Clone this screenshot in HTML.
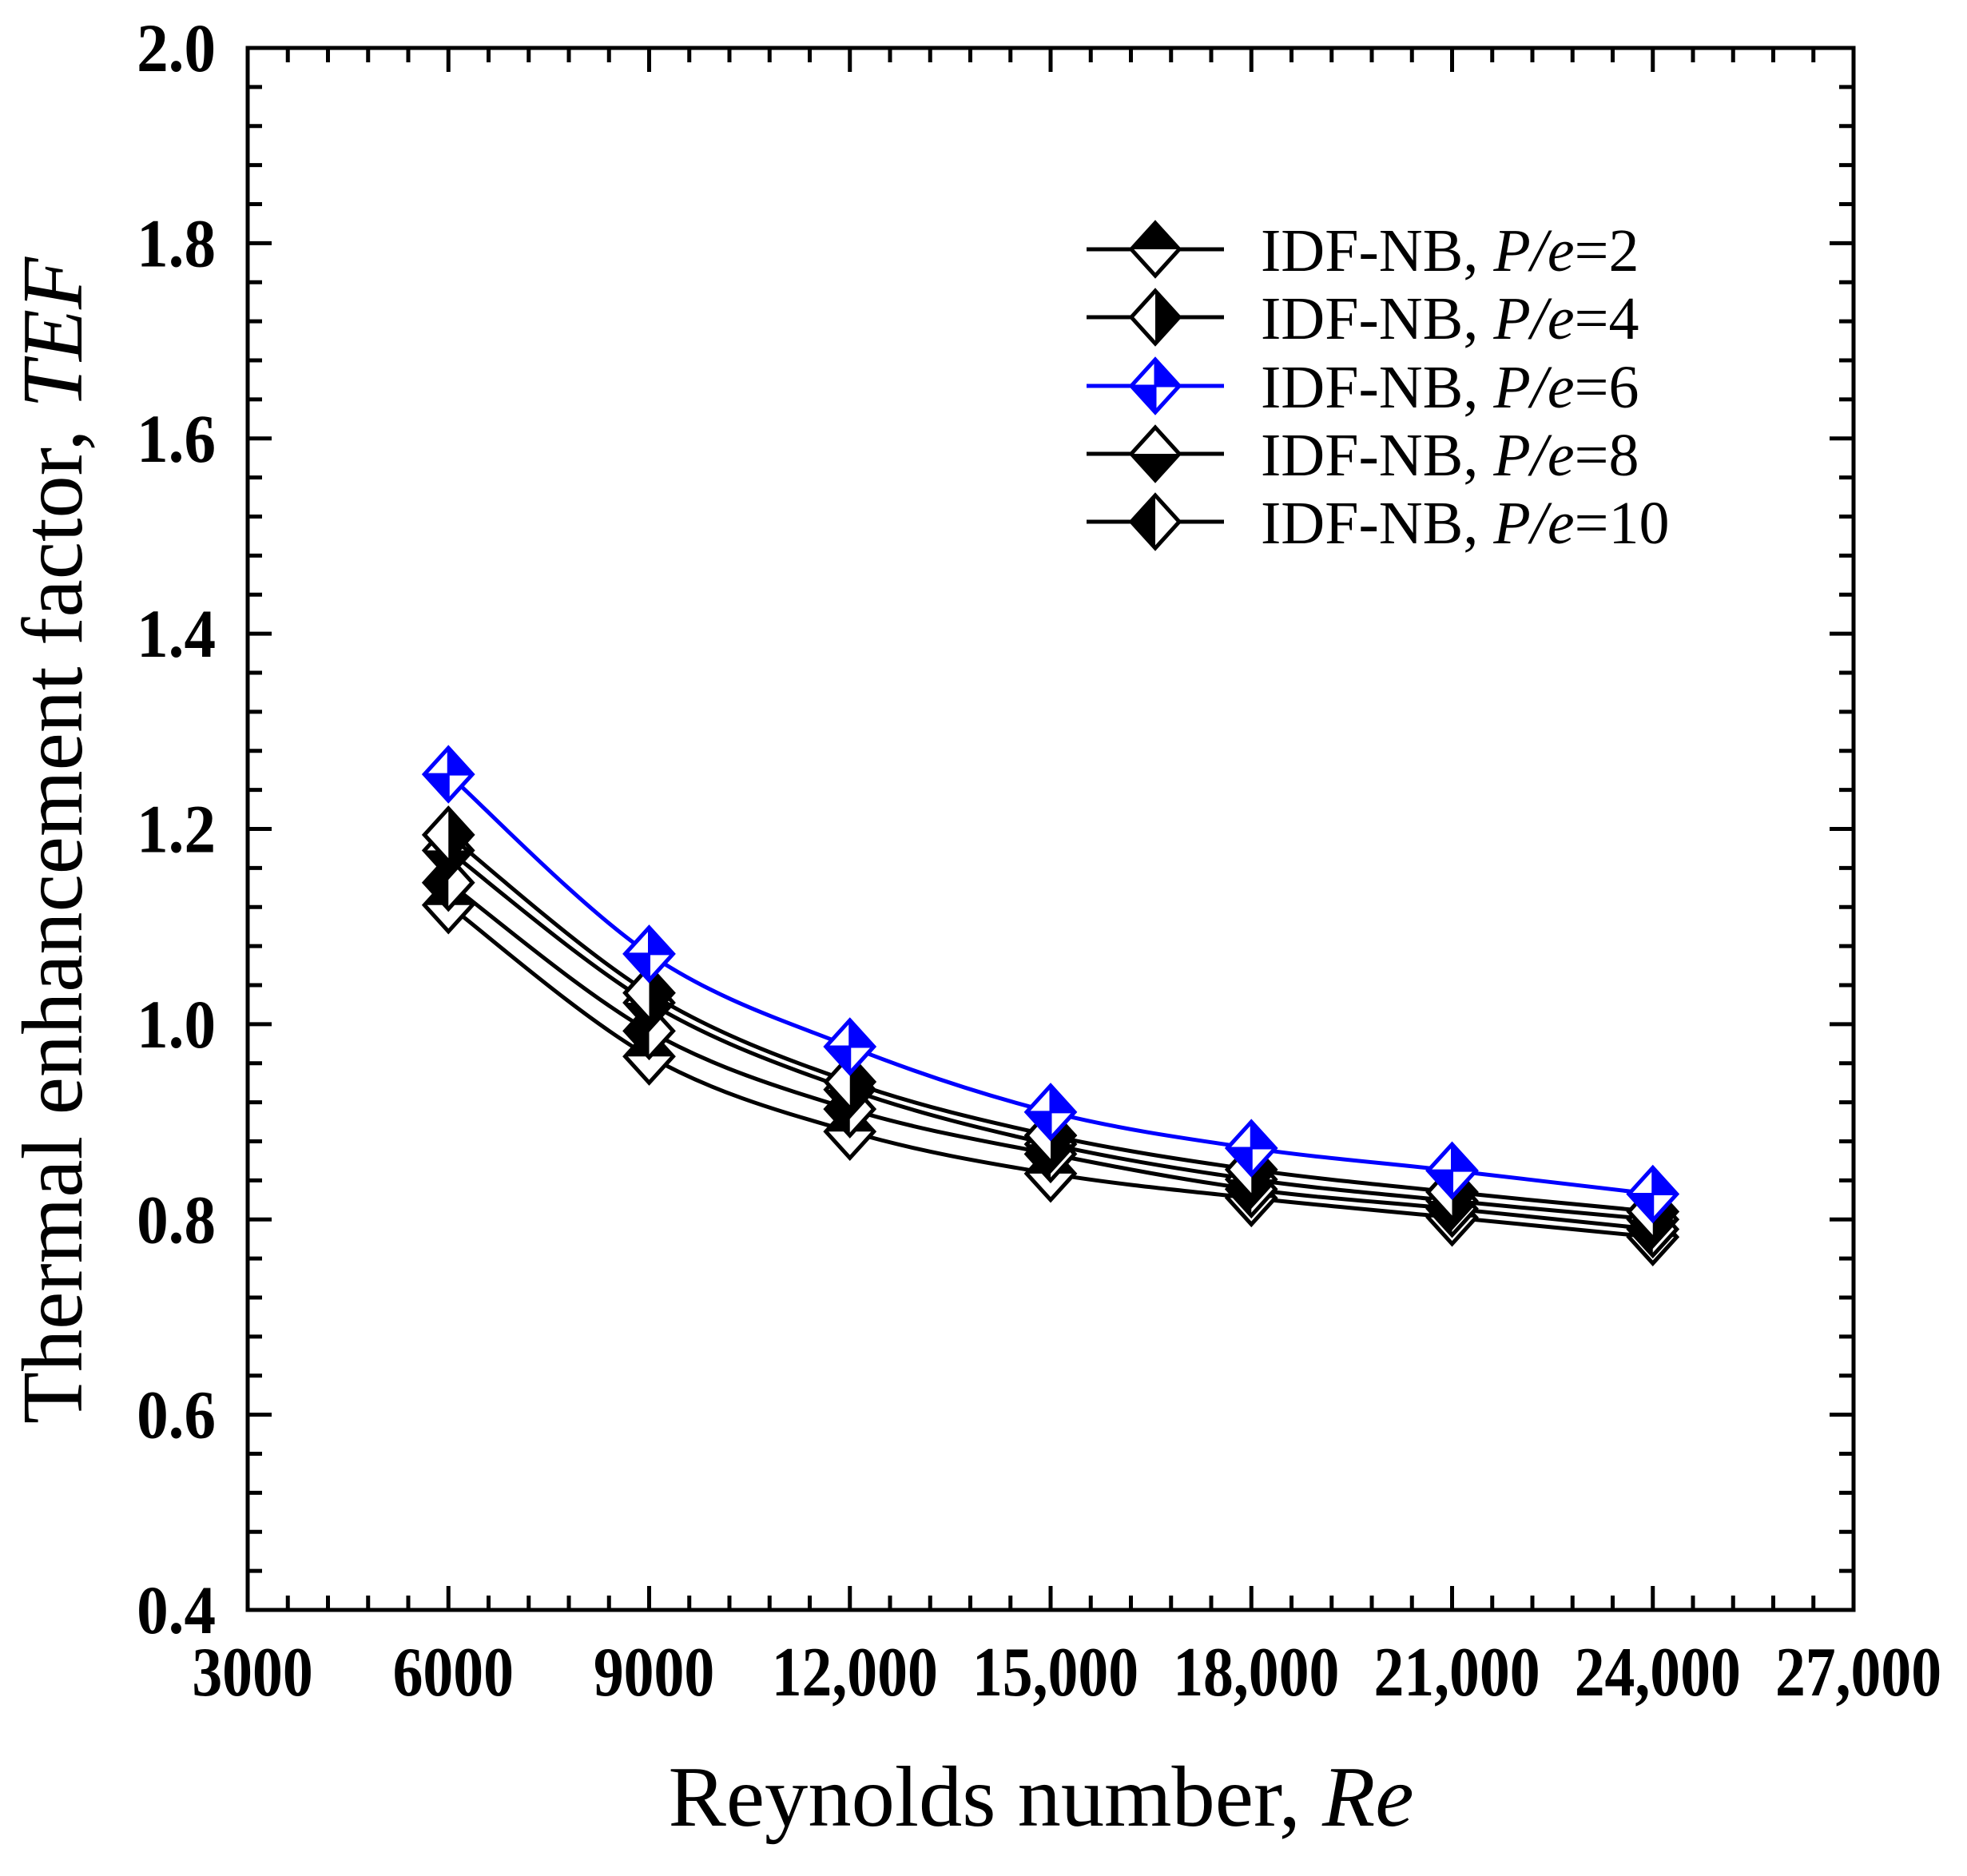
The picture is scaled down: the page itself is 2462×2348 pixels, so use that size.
<!DOCTYPE html>
<html><head><meta charset="utf-8"><style>
html,body{margin:0;padding:0;background:#fff;}
svg{display:block;}
text{font-family:"Liberation Serif","Times New Roman",serif;}
</style></head><body>
<svg id="chart" width="2462" height="2348" viewBox="0 0 2462 2348" xmlns="http://www.w3.org/2000/svg">
<g id="axes"></g>
<g id="series"></g>
<g id="legend"></g>
<text x="1303" y="2285" font-size="108" text-anchor="middle" textLength="933" lengthAdjust="spacingAndGlyphs">Reynolds number, <tspan font-style="italic">Re</tspan></text>
<text transform="translate(102,1052) rotate(-90)" font-size="108" text-anchor="middle" textLength="1460" lengthAdjust="spacingAndGlyphs">Thermal enhancement factor, <tspan font-style="italic">TEF</tspan></text>
</svg>
<script>
const reynolds = [6000, 9000, 12000, 15000, 18000, 21000, 24000];
const tefPe2  = [1.122, 0.967, 0.890, 0.847, 0.822, 0.802, 0.782];
const tefPe4  = [1.194, 1.032, 0.941, 0.886, 0.851, 0.828, 0.808];
const tefPe6  = [1.256, 1.072, 0.977, 0.910, 0.873, 0.850, 0.826];
const tefPe8  = [1.178, 1.022, 0.933, 0.877, 0.841, 0.819, 0.800];
const tefPe10 = [1.145, 0.993, 0.913, 0.867, 0.831, 0.811, 0.790];
const xTickValues = [3000, 6000, 9000, 12000, 15000, 18000, 21000, 24000, 27000];
const xTickLabels = ["3000","6000","9000","12,000","15,000","18,000","21,000","24,000","27,000"];
const yTickValues = [0.4, 0.6, 0.8, 1.0, 1.2, 1.4, 1.6, 1.8, 2.0];
const yTickLabels = ["0.4","0.6","0.8","1.0","1.2","1.4","1.6","1.8","2.0"];
const seriesNames = ["IDF-NB, P/e=2","IDF-NB, P/e=4","IDF-NB, P/e=6","IDF-NB, P/e=8","IDF-NB, P/e=10"];

const NS = "http://www.w3.org/2000/svg";
const L = 310, R = 2320, T = 60, B = 2015;
const X0 = 3000, X1 = 27000, Y0 = 0.4, Y1 = 2.0;
const xs = v => L + (v - X0) / (X1 - X0) * (R - L);
const ys = v => B - (v - Y0) / (Y1 - Y0) * (B - T);
function el(tag, attrs, parent) {
  const e = document.createElementNS(NS, tag);
  for (const k in attrs) e.setAttribute(k, attrs[k]);
  parent.appendChild(e);
  return e;
}
const axes = document.getElementById("axes");
const frame = el("rect", {x: L, y: T, width: R - L, height: B - T, fill: "none", stroke: "#000", "stroke-width": 5}, axes);


for (let v = X0; v <= X1 + 1; v += 600) {
  const major = Math.abs((v - X0) % 3000) < 1;
  const len = major ? 30 : 18;
  const x = xs(v);
  const t1 = el("line", {x1: x, x2: x, y1: B, y2: B - len, stroke: "#000", "stroke-width": 5}, axes);
  
  
  const t2 = el("line", {x1: x, x2: x, y1: T, y2: T + len, stroke: "#000", "stroke-width": 5}, axes);
  
  
}
for (let v = 0.4; v <= 2.0001; v += 0.04) {
  const major = Math.abs(((v - 0.4) / 0.2) - Math.round((v - 0.4) / 0.2)) < 0.01;
  const len = major ? 30 : 18;
  const y = ys(v);
  const t1 = el("line", {x1: L, x2: L + len, y1: y, y2: y, stroke: "#000", "stroke-width": 5}, axes);
  
  
  const t2 = el("line", {x1: R, x2: R - len, y1: y, y2: y, stroke: "#000", "stroke-width": 5}, axes);
  
  
}
xTickValues.forEach((v, i) => {
  const g = el("g", {transform: `translate(${xs(v) + 6},2122) scale(0.86,1)`}, axes);
  const t = el("text", {x: 0, y: 0, "font-size": 88, "font-weight": "bold", "text-anchor": "middle"}, g);
  t.textContent = xTickLabels[i];
  
  
});
yTickValues.forEach((v, i) => {
  const g = el("g", {transform: `translate(270,${ys(v) + 29}) scale(0.92,1)`}, axes);
  const t = el("text", {x: 0, y: 0, "font-size": 86, "font-weight": "bold", "text-anchor": "end"}, g);
  t.textContent = yTickLabels[i];
  
  
});

const HW = 30, HH = 33;
function marker(parent, cx, cy, type, color) {
  const g = el("g", {}, parent);
  const top = [cx, cy - HH], bot = [cx, cy + HH], lft = [cx - HW, cy], rgt = [cx + HW, cy];
  const P = a => a.map(p => p.join(",")).join(" ");
  el("polygon", {points: P([top, rgt, bot, lft]), fill: "#fff"}, g);
  let fills = [];
  if (type === "top") fills = [[lft, top, rgt]];
  if (type === "bottom") fills = [[lft, bot, rgt]];
  if (type === "right") fills = [[top, rgt, bot]];
  if (type === "left") fills = [[top, lft, bot]];
  if (type === "quad") fills = [[[cx, cy], top, rgt], [[cx, cy], bot, lft]];
  fills.forEach(f => el("polygon", {points: P(f), fill: color}, g));
  el("polygon", {points: P([top, rgt, bot, lft]), fill: "none", stroke: color, "stroke-width": 5, "stroke-linejoin": "miter"}, g);
  if (type === "quad") {
    el("line", {x1: cx - HW, x2: cx + HW, y1: cy, y2: cy, stroke: color, "stroke-width": 3}, g);
    el("line", {x1: cx, x2: cx, y1: cy - HH, y2: cy + HH, stroke: color, "stroke-width": 3}, g);
  }
  return g;
}
function smoothPath(pts) {
  let d = `M${pts[0][0]},${pts[0][1]}`;
  for (let i = 0; i < pts.length - 1; i++) {
    const p0 = pts[Math.max(i - 1, 0)], p1 = pts[i], p2 = pts[i + 1], p3 = pts[Math.min(i + 2, pts.length - 1)];
    const c1 = [p1[0] + (p2[0] - p0[0]) / 6, p1[1] + (p2[1] - p0[1]) / 6];
    const c2 = [p2[0] - (p3[0] - p1[0]) / 6, p2[1] - (p3[1] - p1[1]) / 6];
    d += ` C${c1[0]},${c1[1]} ${c2[0]},${c2[1]} ${p2[0]},${p2[1]}`;
  }
  return d;
}
const seriesData = [tefPe2, tefPe4, tefPe6, tefPe8, tefPe10];
const types = ["top", "right", "quad", "bottom", "left"];
const colors = ["#000", "#000", "#0000ff", "#000", "#000"];
const seriesSlugs = ["pe2", "pe4", "pe6", "pe8", "pe10"];
const sLayer = document.getElementById("series");
const drawOrder = [0, 4, 3, 1, 2];
drawOrder.forEach(si => {
  const g = el("g", {}, sLayer);
  
  
  const pts = reynolds.map((r, i) => [xs(r), ys(seriesData[si][i])]);
  const line = el("path", {d: smoothPath(pts), fill: "none", stroke: colors[si], "stroke-width": 5}, g);
  
  
  pts.forEach(p => {
    const m = marker(g, p[0], p[1], types[si], colors[si]);
    
    
  });
});
const lg = document.getElementById("legend");
const rowsY = [312, 397, 483, 568, 653];
seriesNames.forEach((name, i) => {
  const g = el("g", {}, lg);
  
  
  el("line", {x1: 1360, x2: 1532, y1: rowsY[i], y2: rowsY[i], stroke: colors[i], "stroke-width": 5}, g);
  marker(g, 1446, rowsY[i], types[i], colors[i]);
  const t = el("text", {x: 1578, y: rowsY[i] + 27, "font-size": 76}, g);
  const m = name.match(/^(.*, )P\/e=(\d+)$/);
  const a = document.createElementNS(NS, "tspan"); a.textContent = m[1]; t.appendChild(a);
  const b = document.createElementNS(NS, "tspan"); b.setAttribute("font-style", "italic"); b.textContent = "P/e"; t.appendChild(b);
  const c = document.createElementNS(NS, "tspan"); c.textContent = "=" + m[2]; t.appendChild(c);
  
  
});
</script>
</body></html>
